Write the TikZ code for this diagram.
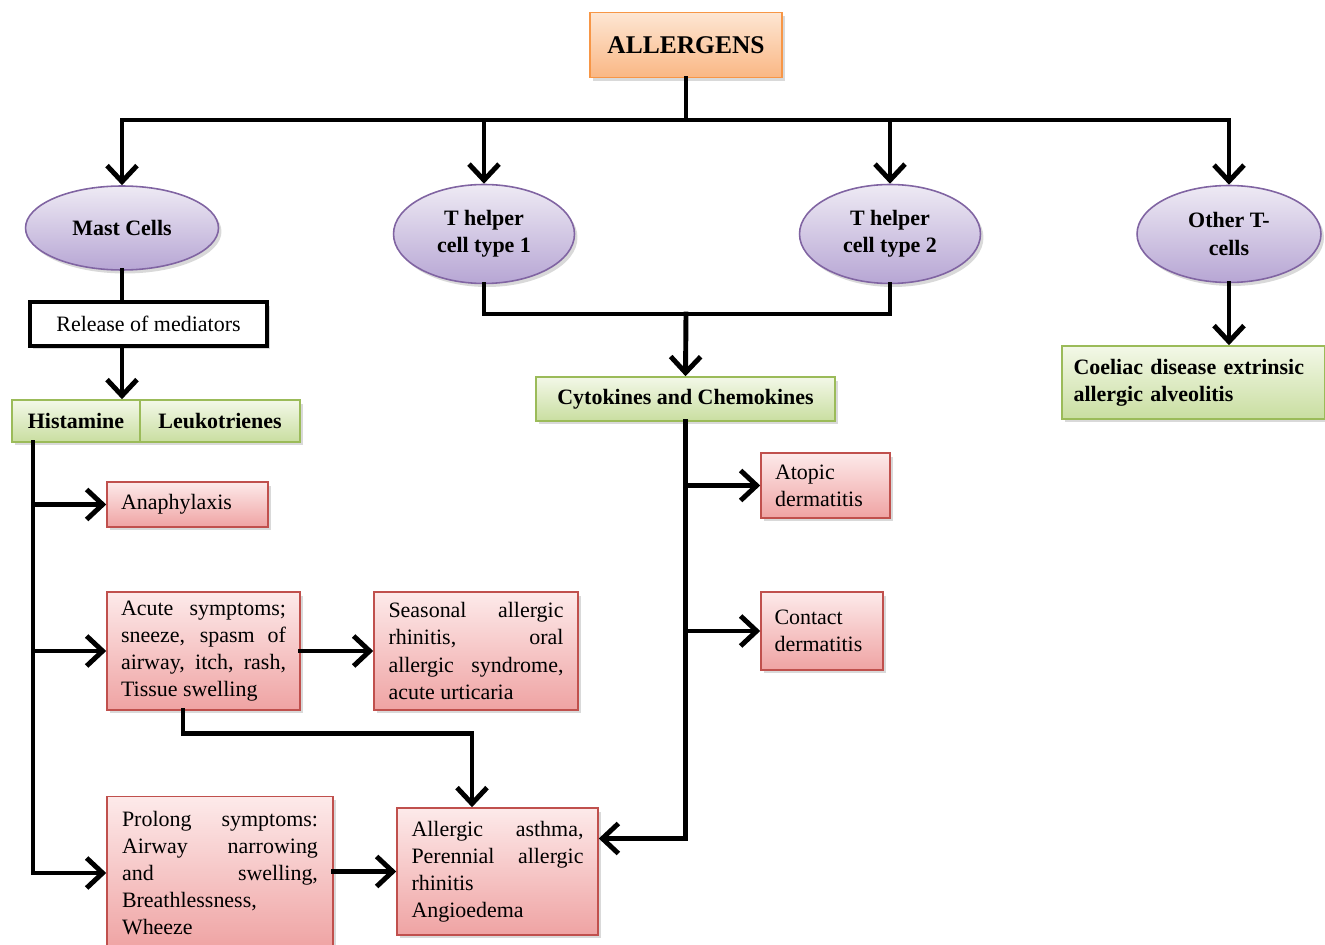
\documentclass[tikz,border=0pt]{standalone}
\usepackage{fontspec}
\setmainfont{Liberation Serif}
\usetikzlibrary{arrows.meta, shapes.geometric, shadows}
\definecolor{corange}{HTML}{F79646}
\definecolor{corangetop}{HTML}{FDE6D3}
\definecolor{corangebot}{HTML}{FAB784}
\definecolor{cviolet}{HTML}{8064A2}
\definecolor{cviolettop}{HTML}{EEEAF4}
\definecolor{cvioletbot}{HTML}{B7A6D4}
\definecolor{cgreen}{HTML}{9BBB59}
\definecolor{cgreentop}{HTML}{F3F8E8}
\definecolor{cgreenbot}{HTML}{C9DEA0}
\definecolor{cred}{HTML}{C0504D}
\definecolor{credtop}{HTML}{FDEAEA}
\definecolor{credbot}{HTML}{EFA3A3}
\newcommand{\boxfont}{\fontsize{12.5}{15.4}\selectfont}
\tikzset{
  shade/.style={drop shadow={opacity=0.3, shadow xshift=0.6mm, shadow yshift=-0.7mm}},
  peach/.style={draw=corange, line width=1pt, top color=corangetop, bottom color=corangebot, shade,
    font=\fontsize{14.5}{17}\selectfont\bfseries},
  cell/.style={ellipse, draw=cviolet, line width=0.9pt, top color=cviolettop, bottom color=cvioletbot, shade,
    inner sep=0pt, align=center, font=\boxfont\bfseries},
  greenbox/.style={draw=cgreen, line width=0.9pt, top color=cgreentop, bottom color=cgreenbot, shade,
    inner sep=2pt, font=\boxfont\bfseries},
  redbox/.style={draw=cred, line width=0.9pt, top color=credtop, bottom color=credbot, shade,
    inner xsep=2pt, inner ysep=3pt, font=\boxfont},
  plainbox/.style={draw, line width=2pt, fill=white, shade, font=\boxfont},
  line/.style={line width=2.8pt, line cap=rect},
  arr/.style={line, -{Straight Barb[length=3.2mm, width=6mm]}},
}

\begin{document}
\begin{tikzpicture}[x=0.02cm, y=-0.02cm]
  \useasboundingbox (0,0) rectangle (1325,945);
  \node[peach, minimum width=3.84cm, minimum height=1.3cm] (allergens) at (686,45) {ALLERGENS};

  \node[cell, minimum width=3.86cm, minimum height=1.68cm] (mast) at (122,228) {Mast Cells};
  \node[cell, minimum width=3.62cm, minimum height=1.98cm] (th1) at (484,234) {T helper\\cell type 1};
  \node[cell, minimum width=3.62cm, minimum height=1.98cm] (th2) at (890,234) {T helper\\cell type 2};
  \node[cell, minimum width=3.68cm, minimum height=1.94cm] (other) at (1229,234) {Other T-\\cells};

  \node[plainbox, minimum width=4.74cm, minimum height=0.88cm] (release) at (148.5,324) {Release of mediators};
  \node[greenbox, minimum width=2.56cm, minimum height=0.84cm] (hist) at (76,421) {Histamine};
  \node[greenbox, minimum width=3.2cm, minimum height=0.84cm] (leuk) at (220,421) {Leukotrienes};
  \node[greenbox, minimum width=5.98cm, minimum height=0.88cm] (cyto) at (685.5,399) {Cytokines and Chemokines};
  \node[greenbox, minimum width=5.26cm, minimum height=1.46cm, text width=4.8cm, align=left] (coeliac) at (1193.5,382.5)
    {Coeliac disease extrinsic\\allergic alveolitis};

  \node[redbox, minimum width=3.22cm, minimum height=0.9cm, text width=2.66cm, align=left] (anaph) at (187.5,504.5) {Anaphylaxis};
  \node[redbox, minimum width=3.86cm, minimum height=2.36cm, text width=3.3cm, align=justify] (acute) at (203.5,651)
    {Acute symptoms;\linebreak sneeze, spasm of\linebreak airway, itch, rash,\linebreak Tissue swelling};
  \node[redbox, minimum width=4.08cm, minimum height=2.36cm, text width=3.5cm, align=justify] (seasonal) at (476,651)
    {Seasonal allergic\linebreak rhinitis, oral\linebreak allergic syndrome,\linebreak acute urticaria};
  \node[redbox, minimum width=4.52cm, minimum height=3.06cm, text width=3.92cm, align=justify] (prolong) at (220,873)
    {Prolong symptoms:\linebreak Airway narrowing\linebreak and swelling,\linebreak Breathlessness,\newline Wheeze};
  \node[redbox, minimum width=4.02cm, minimum height=2.54cm, text width=3.44cm, align=justify] (asthma) at (497.5,871.5)
    {Allergic asthma,\linebreak Perennial allergic\linebreak rhinitis\newline Angioedema};
  \node[redbox, minimum width=2.58cm, minimum height=1.3cm, text width=2.02cm, align=left] (atopic) at (825.5,485.5)
    {Atopic\\dermatitis};
  \node[redbox, minimum width=2.44cm, minimum height=1.56cm, text width=1.9cm, align=left] (contact) at (822,631)
    {Contact\\dermatitis\\[3pt]};

  \coordinate (bus) at (686,120);
  \draw[line] (allergens) -- (bus);
  \draw[line] (mast.north |- bus) -- (other.north |- bus);
  \foreach \n in {mast, th1, th2, other}
    \draw[arr] (\n.north |- bus) -- (\n.north);

  \draw[line] (mast.south) -- (mast.south |- release.north);
  \draw[arr] (mast.south |- release.south) -- (mast.south |- hist.north);

  \coordinate (hx) at ([xshift=-0.86cm]hist.south);
  \draw[line] (hx) -- (hx |- prolong.west);
  \draw[arr] (hx |- anaph.west) -- (anaph.west);
  \draw[arr] (hx |- acute.west) -- (acute.west);
  \draw[arr] (hx |- prolong.west) -- (prolong.west);
  \draw[arr] (acute) -- (seasonal);
  \draw[arr] ([xshift=-0.41cm]acute.south) -- ++(0,23) -| ([xshift=-0.51cm]asthma.north);
  \draw[arr] (prolong.east |- asthma.west) -- (asthma.west);

  \coordinate (tj) at (686,314);
  \draw[line] (th1.south) |- (tj) -| (th2.south);
  \draw[arr] (tj) -- (cyto.north);
  \draw[arr] (cyto.south) |- ([yshift=0.66cm]asthma.east);
  \draw[arr] (cyto.south |- atopic.west) -- (atopic.west);
  \draw[arr] (cyto.south |- contact.west) -- (contact.west);

  \draw[arr] (other.south) -- (other.south |- coeliac.north);
\end{tikzpicture}
\end{document}
